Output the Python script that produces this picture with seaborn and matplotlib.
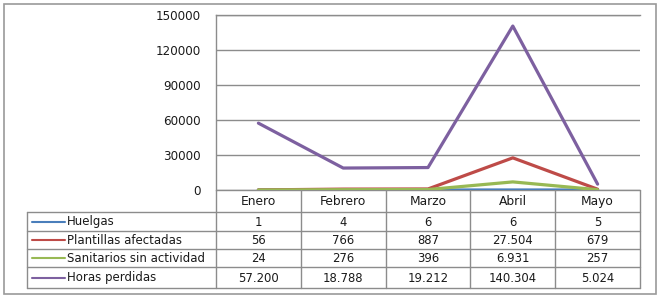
import numpy as np
import pandas as pd
import matplotlib
matplotlib.use('Agg')
import matplotlib.pyplot as plt
from matplotlib.patches import Rectangle
import seaborn as sns

months = ['Enero', 'Febrero', 'Marzo', 'Abril', 'Mayo']
series_names = ['Huelgas', 'Plantillas afectadas', 'Sanitarios sin actividad', 'Horas perdidas']
huelgas = [1, 4, 6, 6, 5]
plantillas = [56, 766, 887, 27504, 679]
sanitarios = [24, 276, 396, 6931, 257]
horas = [57200, 18788, 19212, 140304, 5024]
yticks = [0, 30000, 60000, 90000, 120000, 150000]
colors = ['#4A7EBB', '#BE4B48', '#98B954', '#7D60A0']

sns.set_theme(style='white')
plt.rcParams['font.family'] = ['DejaVu Sans']

W, H = 660, 300
fig = plt.figure(figsize=(6.6, 3.0), dpi=100)
fig.patch.set_facecolor('white')

bg = fig.add_axes([0, 0, 1, 1])
bg.set_xlim(0, W)
bg.set_ylim(H, 0)
bg.axis('off')
grey = '#8c8c8c'
txt = '#1a1a1a'
bg.add_patch(Rectangle((3.5, 3.5), 652, 290, fill=False, ec='#9a9a9a', lw=1.2))

x0, x1 = 216, 640
ytop, ybot = 14.7, 190
ax = fig.add_axes([x0 / W, 1 - ybot / H, (x1 - x0) / W, (ybot - ytop) / H])
ax.set_facecolor('none')

all_series = [huelgas, plantillas, sanitarios, horas]
df = pd.DataFrame({
    'x': list(range(len(months))) * len(series_names),
    'Serie': [s for s in series_names for _ in months],
    'Valor': [v for vals in all_series for v in vals],
})
sns.lineplot(data=df, x='x', y='Valor', hue='Serie', hue_order=series_names,
             palette=colors, lw=2.3, ax=ax, legend=False, sort=False)
ax.set_xlim(-0.5, len(months) - 0.5)
ax.set_ylim(0, 150000)
ax.set_yticks(yticks)
ax.set_yticklabels([str(t) for t in yticks], fontsize=8.6, color=txt)
ax.set_xticks([])
ax.set_xlabel('')
ax.set_ylabel('')
ax.tick_params(axis='y', length=0, pad=11)
ax.grid(axis='y', color=grey, lw=1)
for side in ['right', 'bottom']:
    ax.spines[side].set_visible(False)
for side in ['left', 'top']:
    ax.spines[side].set_color(grey)
    ax.spines[side].set_linewidth(1)

# Data table
cols = np.linspace(x0, x1, len(months) + 1)
rows = [190, 212, 231, 249, 267, 288]
lx = 27
bg.plot([x0, x1], [rows[0], rows[0]], color=grey, lw=1)
for r in rows[1:]:
    bg.plot([lx, x1], [r, r], color=grey, lw=1)
bg.plot([lx, lx], [rows[1], rows[-1]], color=grey, lw=1)
for c in cols:
    bg.plot([c, c], [rows[0], rows[-1]], color=grey, lw=1)

def fmt(v):
    return f"{v:,}".replace(',', '.')

for j, m in enumerate(months):
    cx = (cols[j] + cols[j + 1]) / 2
    bg.text(cx, (rows[0] + rows[1]) / 2 + 0.5, m, ha='center', va='center', fontsize=8.8, color=txt)
for i, (name, vals, col) in enumerate(zip(series_names, all_series, colors)):
    cy = (rows[i + 1] + rows[i + 2]) / 2
    bg.plot([32, 65], [cy, cy], color=col, lw=1.5)
    bg.text(67, cy, name, ha='left', va='center', fontsize=8.5, color=txt)
    for j, v in enumerate(vals):
        cx = (cols[j] + cols[j + 1]) / 2
        bg.text(cx, cy + 0.5, fmt(v), ha='center', va='center', fontsize=8.4, color=txt)

fig.savefig('out.png', dpi=100)
